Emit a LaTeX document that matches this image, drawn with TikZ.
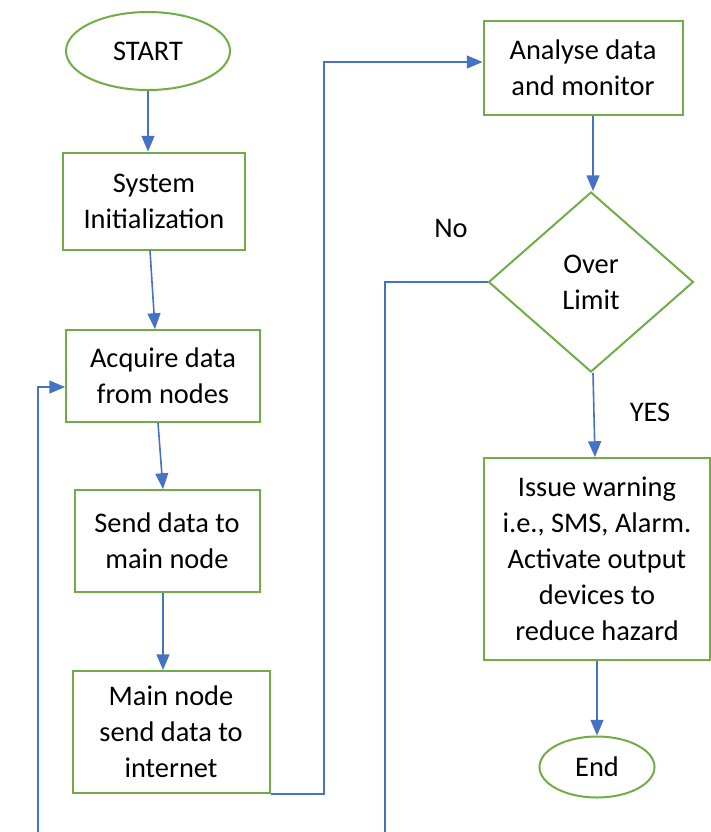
\documentclass[tikz,border=0pt]{standalone}
\usepackage{fontspec}
\setmainfont{Carlito}
\usetikzlibrary{arrows}
\usetikzlibrary{shapes.geometric}
\definecolor{boxgreen}{RGB}{112,173,71}
\definecolor{flowblue}{RGB}{68,114,196}
\tikzset{
every node/.style={align=center, inner sep=2pt, font=\fontsize{14.2}{18}\selectfont},
box/.style={rectangle, draw=boxgreen, line width=1pt},
term/.style={ellipse, draw=boxgreen, line width=1pt, inner sep=0pt},
decision/.style={diamond, draw=boxgreen, line width=1pt, inner sep=0pt},
flow/.style={draw=flowblue, line width=0.8pt, -triangle 45}
}

\begin{document}
\begin{tikzpicture}[x=0.5pt,y=-0.5pt]
\useasboundingbox (0,0) rectangle (711,832);
\clip (0,0) rectangle (711,832);
\node [term, minimum width=82pt, minimum height=39pt] (start) at (148,51) {START};
\node [box, minimum width=91pt, minimum height=48.5pt] (init) at (154,201) {System\\Initialization};
\node [box, minimum width=97pt, minimum height=46pt] (acq) at (163,376) {Acquire data\\from nodes};
\node [box, minimum width=92.5pt, minimum height=51pt] (send) at (167,541) {Send data to\\main node};
\node [box, minimum width=98.5pt, minimum height=61pt] (mainn) at (171,732) {Main node\\send data to\\internet};
\node [box, minimum width=99.5pt, minimum height=47pt] (anly) at (583,68) {Analyse data\\and monitor};
\node [decision, minimum width=102.5pt, minimum height=90pt] (over) at (591,282) {Over\\Limit};
\node [box, minimum width=113pt, minimum height=101pt] (warn) at (597,559) {Issue warning\\i.e., SMS, Alarm.\\Activate output\\devices to\\reduce hazard};
\node [term, minimum width=57.5pt, minimum height=30.5pt] (stop) at (597,767) {End};
\node (no) at (451,228) {No};
\node (yes) at (650,412) {YES};

\coordinate (jog) at (324,400);
\coordinate (loopR) at (385,860);
\coordinate (loopL) at (38,860);

\draw[flow] (start.south) -- (start.south |- init.north);
\draw[flow] ([xshift=-2pt]init.south) -- ([xshift=0.5pt]init.south |- acq.north);
\draw[flow] ([xshift=-2.5pt]acq.south) -- (acq.south |- send.north);
\draw[flow] ([xshift=-2pt]send.south) -- ([xshift=-2pt]send.south |- mainn.north);
\draw[flow] (mainn.south east) -| (jog) |- ([yshift=3pt]anly.west);
\draw[flow] ([xshift=5pt]anly.south) -- ([xshift=1pt]over.north);
\draw[flow] ([xshift=1pt]over.south) -- ([xshift=-1pt]warn.north);
\draw[flow] (warn.south) -- (stop.north);
\draw[flow] (over.west) -| (loopR) -| (loopL) |- ([yshift=-5.5pt]acq.west);
\end{tikzpicture}
\end{document}
